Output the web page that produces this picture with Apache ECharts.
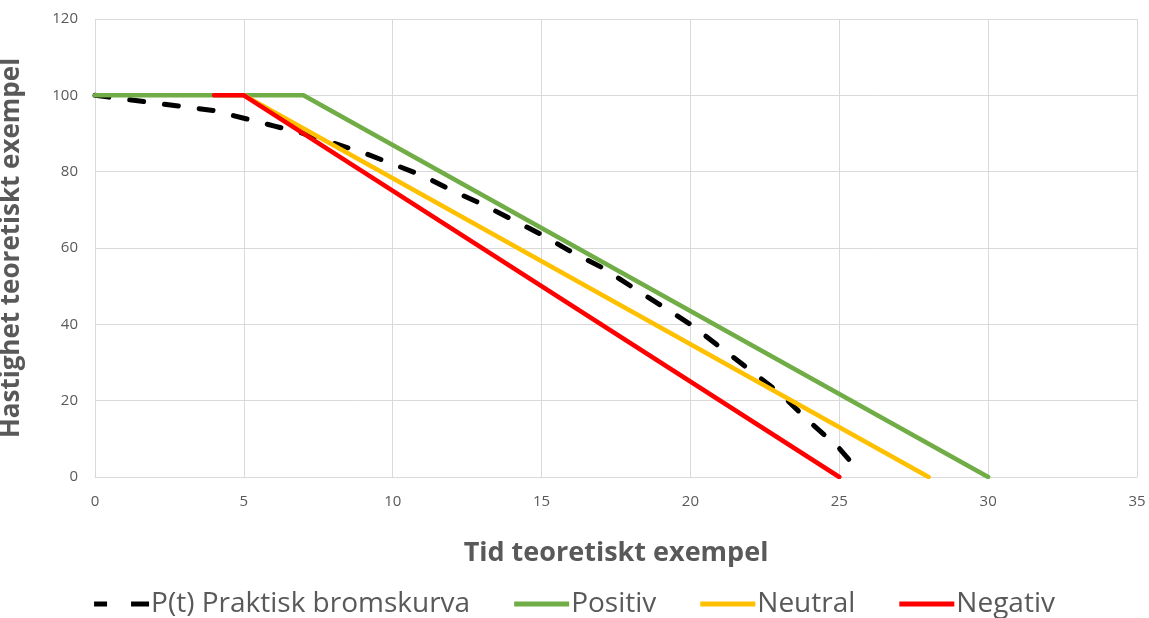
<!DOCTYPE html>
<html>
<head>
<meta charset="utf-8">
<script src="https://cdn.jsdelivr.net/npm/echarts@6/dist/echarts.min.js"></script>
<style>
  html, body { margin: 0; padding: 0; background: #fff; }
  #chart { width: 1149px; height: 618px; }
</style>
</head>
<body>
<div id="chart"></div>
<script>
// Tick settings
const xTicks = { min: 0, max: 35, interval: 5 };
const yTicks = { min: 0, max: 120, interval: 20 };

// P(t) practical braking curve: [time, speed]
const praktisk = [
  [0, 100], [1, 99], [2, 98], [3, 97], [4, 96], [5, 94], [6, 92], [7, 90],
  [8, 87.5], [9, 85], [10, 82], [11, 79], [12, 75], [13, 71.5], [14, 67.5],
  [15, 63.5], [16, 59], [17, 55], [18, 50], [19, 45], [20, 40], [21, 34],
  [22, 28], [23, 22], [24, 14.5], [25, 7.5], [25.7, 1.2]
];
// Theoretical scenarios: [time, speed]
const positiv = [[0, 100], [7, 100], [30, 0]];
const neutral = [[5, 100], [28, 0]];
const negativ = [[4, 100], [5, 100], [25, 0]];

const seriesNames = ['P(t) Praktisk bromskurva', 'Positiv', 'Neutral', 'Negativ'];
const seriesColors = ['#000000', '#70AD47', '#FFC000', '#FF0000'];

const textColor = '#595959';
const gridColor = '#D9D9D9';
const font = 'Open Sans, Liberation Sans, sans-serif';

// Legend swatches: a solid bar, or two dashes for the dashed curve
const solidIcon = 'path://M0,0H55V5H0Z';
const dashIcon = 'path://M0,0H13V5H0Z M37,0H55V5H37Z';

function lineSeries(name, data, color, dashed) {
  return {
    name: name,
    type: 'line',
    data: data,
    symbol: 'none',
    animation: false,
    lineStyle: dashed
      ? { color: color, width: 5, type: [14, 21], cap: 'round' }
      : { color: color, width: 4.5, cap: 'round', join: 'round' },
    itemStyle: { color: color }
  };
}

const chart = echarts.init(document.getElementById('chart'), null, { renderer: 'canvas' });
chart.setOption({
  animation: false,
  backgroundColor: '#ffffff',
  grid: { left: 95, right: 12, top: 19, bottom: 141, outerBoundsMode: 'none' },
  xAxis: {
    type: 'value',
    min: xTicks.min, max: xTicks.max, interval: xTicks.interval,
    name: 'Tid teoretiskt exempel',
    nameLocation: 'middle',
    nameGap: 63,
    nameTextStyle: { fontFamily: font, fontSize: 27, fontWeight: 'bold', color: textColor },
    axisLine: { show: true, lineStyle: { color: gridColor, width: 1 } },
    axisTick: { show: false },
    axisLabel: { color: textColor, fontFamily: font, fontSize: 15, margin: 17 },
    splitLine: { show: true, lineStyle: { color: gridColor, width: 1 } }
  },
  yAxis: {
    type: 'value',
    min: yTicks.min, max: yTicks.max, interval: yTicks.interval,
    name: 'Hastighet teoretiskt exempel',
    nameLocation: 'middle',
    nameGap: 70,
    nameRotate: 90,
    nameTextStyle: { fontFamily: font, fontSize: 26, fontWeight: 'bold', color: textColor },
    axisLine: { show: false },
    axisTick: { show: false },
    axisLabel: { color: textColor, fontFamily: font, fontSize: 15, margin: 17 },
    splitLine: { show: true, lineStyle: { color: gridColor, width: 1 } }
  },
  legend: {
    top: 585,
    left: 'center',
    itemWidth: 55,
    itemHeight: 5,
    itemGap: 44,
    textStyle: { fontFamily: font, fontSize: 28, color: textColor, padding: [0, 0, 0, -3] },
    data: [
      { name: seriesNames[0], icon: dashIcon },
      { name: seriesNames[1], icon: solidIcon },
      { name: seriesNames[2], icon: solidIcon },
      { name: seriesNames[3], icon: solidIcon }
    ]
  },
  series: [
    lineSeries(seriesNames[0], praktisk, seriesColors[0], true),
    lineSeries(seriesNames[1], positiv, seriesColors[1], false),
    lineSeries(seriesNames[2], neutral, seriesColors[2], false),
    lineSeries(seriesNames[3], negativ, seriesColors[3], false)
  ]
});
</script>
</body>
</html>
